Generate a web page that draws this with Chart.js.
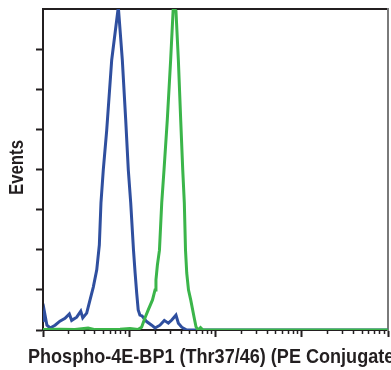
<!DOCTYPE html>
<html lang="en">
<head>
    <meta charset="UTF-8">
    <title>Phospho-4E-BP1 (Thr37/46) flow histogram</title>
    <script src="https://cdn.jsdelivr.net/npm/chart.js"></script>
    <style>
        body { margin: 0; background: #fff; }
        #box { width: 391px; height: 370px; }
    </style>
</head>
<body>
    <div id="box"><canvas id="histo" width="391" height="370"></canvas></div>

    <script>
        // fluorescence channel (log) and event counts
        const blueX = [1.00, 1.04, 1.11, 1.21, 1.38, 1.57, 1.80, 2.02, 2.15, 2.46, 2.74, 2.89, 3.21, 3.51, 3.83, 4.20, 4.50, 4.70, 5.00, 5.48, 6.26, 7.47,
                       8.31, 9.10, 9.75, 10.4, 11.2, 11.7, 12.2, 12.7, 13.3, 14.1, 15.9, 18.2, 19.9, 22.7, 25.5, 28.4, 31.1, 34.8, 37.1, 40.6, 46.4, 10000];
        const blueY = [20, 45, 12, 5, 12, 22, 29, 40, 24, 32, 47, 30, 42, 75, 107, 150, 212, 317, 399, 498, 673, 805,
                       673, 523, 399, 317, 199, 142, 92, 50, 37, 35, 21, 12, 5, 12, 24, 17, 25, 37, 17, 7, 0, 0];

        const greenX = [1.00, 1.57, 2.35, 3.33, 4.01, 5.98, 7.81, 10.2, 12.6, 13.9, 15.2, 16.6, 18.6, 19.9, 20.4, 21.2, 22.4, 23.8, 25.3, 27.6, 30.2, 32.4,
                        34.8, 37.1, 39.5, 41.7, 43.5, 44.9, 46.4, 48.6, 51.6, 56.3, 59.4, 62.7, 67.0, 71.6, 10000];
        const greenY = [1, 2, 1, 5, 1, 1, 2, 4, 1, 7, 30, 50, 75, 100, 125, 162, 199, 317, 399, 523, 673, 805,
                        795, 673, 523, 399, 317, 199, 142, 100, 75, 33, 8, 0, 6, 0, 0];

        const majorTicks = [1, 10, 100, 1000, 10000];
        const minorTicks = [2, 3, 4, 5, 6, 7, 8, 9, 20, 30, 40, 50, 60, 70, 80, 90,
                            200, 300, 400, 500, 600, 700, 800, 900, 2000, 3000, 4000, 5000, 6000, 7000, 8000, 9000];

        const xTitle = 'Phospho-4E-BP1 (Thr37/46) (PE Conjugate)';
        const yTitle = 'Events';

        const titleFont = '"Liberation Sans", Arial, sans-serif';
        const ink = '#231f20';

        function toPoints(xs, ys) {
            return xs.map((x, i) => ({ x: x, y: ys[i] }));
        }

        // condensed bold axis titles (no narrow face installed, so squeeze it)
        const axisTitles = {
            id: 'axisTitles',
            afterDraw(chart) {
                const ctx = chart.ctx;
                const area = chart.chartArea;
                ctx.save();
                ctx.fillStyle = ink;

                ctx.save();
                ctx.font = 'bold 21px ' + titleFont;
                ctx.textBaseline = 'alphabetic';
                ctx.translate(28, 363);
                ctx.scale(0.86, 1);
                ctx.fillText(xTitle, 0, 0);
                ctx.restore();

                ctx.save();
                ctx.font = 'bold 20px ' + titleFont;
                ctx.textAlign = 'center';
                ctx.textBaseline = 'alphabetic';
                ctx.translate(23, (area.top + area.bottom) / 2 - 2);
                ctx.rotate(-Math.PI / 2);
                ctx.scale(0.84, 1);
                ctx.fillText(yTitle, 0, 0);
                ctx.restore();

                ctx.restore();
            }
        };

        new Chart(document.getElementById('histo'), {
            type: 'line',
            data: {
                datasets: [{
                    label: 'treated',
                    data: toPoints(greenX, greenY),
                    borderColor: '#3bb54a',
                    borderWidth: 3,
                    pointRadius: 0,
                    tension: 0
                }, {
                    label: 'control',
                    data: toPoints(blueX, blueY),
                    borderColor: '#2f4f9f',
                    borderWidth: 3,
                    pointRadius: 0,
                    tension: 0
                }]
            },
            options: {
                responsive: false,
                animation: false,
                layout: { padding: { top: 9, right: 3, left: 0, bottom: 0 } },
                plugins: { legend: { display: false }, tooltip: { enabled: false } },
                scales: {
                    x: {
                        type: 'logarithmic',
                        position: 'bottom',
                        min: 1,
                        max: 10000,
                        afterBuildTicks: axis => { axis.ticks = majorTicks.map(v => ({ value: v })); },
                        afterFit: axis => { axis.height = 0; },
                        ticks: { display: false },
                        grid: { drawOnChartArea: false, tickLength: 7, tickWidth: 2, tickColor: ink },
                        border: { color: ink, width: 2 }
                    },
                    x2: {
                        type: 'logarithmic',
                        position: 'bottom',
                        min: 1,
                        max: 10000,
                        afterBuildTicks: axis => { axis.ticks = minorTicks.map(v => ({ value: v })); },
                        afterFit: axis => { axis.height = 40; },
                        ticks: { display: false },
                        grid: { drawOnChartArea: false, tickLength: 4, tickWidth: 1.5, tickColor: ink },
                        border: { color: ink, width: 2 }
                    },
                    y: {
                        position: 'left',
                        min: 0,
                        max: 800,
                        afterFit: axis => { axis.width = 43; },
                        ticks: { display: false, stepSize: 100 },
                        grid: {
                            drawOnChartArea: false,
                            tickLength: 7,
                            tickWidth: 2,
                            tickColor: c => c.tick && c.tick.value === 800 ? 'rgba(0,0,0,0)' : ink
                        },
                        border: { color: ink, width: 2 }
                    },
                    xTop: {
                        type: 'linear',
                        position: 'top',
                        afterFit: axis => { axis.height = 0; },
                        ticks: { display: false },
                        grid: { display: false },
                        border: { color: ink, width: 2 }
                    },
                    yRight: {
                        type: 'linear',
                        position: 'right',
                        afterFit: axis => { axis.width = 0; },
                        ticks: { display: false },
                        grid: { display: false },
                        border: { color: '#7a7a7a', width: 2 }
                    }
                }
            },
            plugins: [axisTitles]
        });
    </script>
</body>
</html>
